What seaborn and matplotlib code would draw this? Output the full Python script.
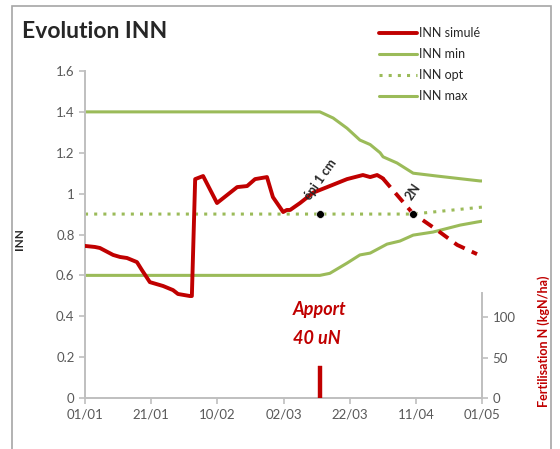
#bibliotecas
import numpy as np
import pandas as pd
import matplotlib.pyplot as plt
import seaborn as sns
from matplotlib.patches import Rectangle

sns.set_style('white')
plt.rcParams['font.family'] = ['Lato', 'DejaVu Sans']

#donnees (jours depuis le 01/01)
jours_sim = [0, 3, 4.5, 8.5, 10.6, 12.7, 15.7, 17.2, 19.6, 23.6, 26.6, 28.1, 31.7, 32.3,
             33.3, 35.7, 39.9, 46, 49, 51.4, 55, 56.8, 59.9, 61, 62, 65, 69, 73.2, 79.2,
             84, 86.2, 88.3, 90, 99, 106.4, 112.5, 118.5]
inn_sim = [0.744, 0.739, 0.734, 0.70, 0.69, 0.685, 0.665, 0.626, 0.567, 0.548, 0.528, 0.509,
           0.499, 0.499, 1.071, 1.086, 0.954, 1.032, 1.037, 1.071, 1.081, 0.983, 0.91, 0.92,
           0.92, 0.954, 1.005, 1.032, 1.071, 1.091, 1.081, 1.091, 1.075, 0.905, 0.822,
           0.749, 0.704]
jour_prevision = 90  # au dela : courbe en tirets

jours_max = [0, 71, 75, 79.2, 83.1, 86.2, 89.2, 90.1, 94.3, 99.2, 106.4, 119.4, 120]
inn_max = [1.4, 1.4, 1.37, 1.32, 1.262, 1.24, 1.2, 1.18, 1.15, 1.10, 1.086, 1.062, 1.062]

jours_min = [0, 71, 74, 79.2, 83.1, 86.2, 91.3, 95.2, 99.2, 105.2, 113.4, 118.5, 120]
inn_min = [0.6, 0.6, 0.61, 0.66, 0.70, 0.709, 0.753, 0.768, 0.797, 0.812, 0.846, 0.861, 0.865]

jours_opt = [0, 99, 120]
inn_opt = [0.9, 0.9, 0.934]

stades = ['épi 1 cm', '2N']
jours_stades = [71, 99]
inn_stades = [0.9, 0.9]

jours_apport = [71]
dose_apport = [40]

ticks_jours = [0, 20, 40, 60, 80, 100, 120]
labels_dates = ['01/01', '21/01', '10/02', '02/03', '22/03', '11/04', '01/05']

rouge = '#C00000'
vert = '#9BBB59'
gris = '#595959'
gris_axe = '#BFBFBF'

df_sim = pd.DataFrame({'jour': jours_sim, 'inn': inn_sim})

fig = plt.figure(figsize=(5.6, 4.49), dpi=100)
ax = fig.add_axes([85/560, 1-398/449, 397/560, 327/449])

sns.lineplot(data=df_sim[df_sim['jour'] <= jour_prevision], x='jour', y='inn', ax=ax,
             color=rouge, lw=2.8, label='INN simulé', zorder=4)
sns.lineplot(data=df_sim[df_sim['jour'] >= jour_prevision], x='jour', y='inn', ax=ax,
             color=rouge, lw=2.8, linestyle=(0, (3, 2)), zorder=4)
sns.lineplot(x=jours_min, y=inn_min, ax=ax, color=vert, lw=2.2, label='INN min')
sns.lineplot(x=jours_opt, y=inn_opt, ax=ax, color=vert, lw=2.2, linestyle=(0, (1, 2)), label='INN opt')
sns.lineplot(x=jours_max, y=inn_max, ax=ax, color=vert, lw=2.2, label='INN max')
sns.scatterplot(x=jours_stades, y=inn_stades, ax=ax, color='black', s=32, zorder=5, legend=False)

decalages = [-2.4, 0.2]
for nom, j, d in zip(stades, jours_stades, decalages):
    ax.text(j + d, 0.96, nom, rotation=55, rotation_mode='anchor', ha='left', va='bottom',
            fontsize=9, fontweight='bold', color='#262626', zorder=6)

ax.set_xlim(0, 120)
ax.set_ylim(0, 1.6)
ax.set_xticks(ticks_jours)
ax.set_xticklabels(labels_dates)
ax.set_yticks(np.arange(0, 1.61, 0.2))
ax.set_yticklabels(['{:g}'.format(round(v, 1)) for v in np.arange(0, 1.61, 0.2)])
ax.tick_params(axis='both', colors=gris_axe, labelcolor=gris, labelsize=9.5, length=4, width=1.2,
               direction='out', bottom=True, left=True)
for s in ['top', 'right']:
    ax.spines[s].set_visible(False)
for s in ['left', 'bottom']:
    ax.spines[s].set_color(gris_axe)
    ax.spines[s].set_linewidth(1.4)
ax.set_xlabel('')
ax.set_ylabel('INN', fontsize=8.5, fontweight='bold', color='#262626')
ax.yaxis.set_label_coords(-60/397, (398-239)/327)

handles, labels = ax.get_legend_handles_labels()
ax.legend(handles, labels, loc='upper left', bbox_to_anchor=(374/560, 1-22/449),
          bbox_transform=fig.transFigure, frameon=False, fontsize=9, handlelength=3,
          labelspacing=0.72, handletextpad=0.2, borderaxespad=0)

#axe secondaire fertilisation
ax2 = fig.add_axes([85/560, 1-398/449, 397/560, 105/449])
ax2.patch.set_alpha(0)
ax2.bar(jours_apport, dose_apport, width=1.0, color=rouge, edgecolor=rouge, lw=0.3)
ax2.set_xlim(0, 120)
ax2.set_ylim(0, 130)
ax2.set_xticks([])
ax2.set_yticks([0, 50, 100])
ax2.yaxis.tick_right()
ax2.yaxis.set_label_position('right')
for s in ['top', 'left', 'bottom']:
    ax2.spines[s].set_visible(False)
ax2.spines['right'].set_color(gris_axe)
ax2.spines['right'].set_linewidth(1.4)
ax2.tick_params(axis='y', colors=gris_axe, labelcolor=gris, labelsize=9.5, length=4, width=1.2,
                direction='out', right=True)
ax2.set_ylabel('Fertilisation N (kgN/ha)', fontsize=9, fontweight='bold', color=rouge)
ax2.yaxis.set_label_coords((537-85)/397, (398-341)/105)

fig.text(293/560, 1-310/449, 'Apport', fontsize=13, fontweight='bold', fontstyle='italic',
         color=rouge, va='center')
fig.text(293/560, 1-338/449, '40 uN', fontsize=13, fontweight='bold', fontstyle='italic',
         color=rouge, va='center')

fig.text(22/560, 1-31/449, 'Evolution INN', fontsize=16.5, fontweight='bold', va='center')

fig.patches.append(Rectangle((12/560, -0.1), 539/560, 1.1 - 6/449, transform=fig.transFigure,
                             fill=False, edgecolor='#A6A6A6', lw=1.2))

fig.savefig('out.png', dpi=100)
